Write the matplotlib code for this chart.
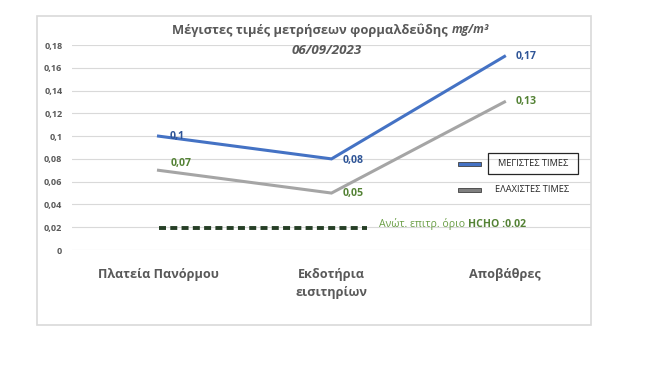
import matplotlib
matplotlib.use("Agg")
import matplotlib.pyplot as plt
import matplotlib.patches as mpatches

plt.rcParams['font.family'] = ['Open Sans', 'DejaVu Sans']

locations = ['Πλατεία Πανόρμου', 'Εκδοτήρια\nεισιτηρίων', 'Αποβάθρες']
max_values = [0.10, 0.08, 0.17]
min_values = [0.07, 0.05, 0.13]
max_labels = ['0,1', '0,08', '0,17']
min_labels = ['0,07', '0,05', '0,13']
limit_value = 0.019
limit_span = [0, 1.205]
y_ticks = [0, 0.02, 0.04, 0.06, 0.08, 0.1, 0.12, 0.14, 0.16, 0.18]
y_tick_labels = ['0', '0,02', '0,04', '0,06', '0,08', '0,1', '0,12', '0,14', '0,16', '0,18']

blue = '#4472C4'
gray = '#A5A5A5'
blue_txt = '#2F5597'
green_txt = '#548235'
text_gray = '#595959'

fig = plt.figure(figsize=(6.5, 3.83), dpi=100)
# outer chart frame
fig.patches.append(mpatches.Rectangle((37 / 650, 1 - 325 / 383), (591 - 37) / 650, (325 - 16) / 383,
                                      transform=fig.transFigure, fill=False, edgecolor='#D9D9D9', lw=1.2))

ax = fig.add_axes([72 / 650, 1 - 250 / 383, (591 - 72) / 650, (250 - 45) / 383])
x = list(range(len(locations)))

ax.plot(x, max_values, color=blue, lw=2.2, solid_joinstyle='miter', zorder=3)
ax.plot(x, min_values, color=gray, lw=2.2, solid_joinstyle='miter', zorder=3)
ax.plot(limit_span, [limit_value, limit_value], color='#263F26', lw=2.8, linestyle=(0, (1.8, 1.1)), zorder=3)
lim_txt = ax.annotate('Ανώτ. επιτρ. όριο ', xy=(limit_span[1], limit_value), xytext=(9, 3),
                      textcoords='offset points', color='#6A9E45', fontsize=7.6, va='center', ha='left')
ax.annotate('HCHO :0.02', xy=(1, 0.5), xycoords=lim_txt, xytext=(0, 0), textcoords='offset points',
            color=green_txt, fontsize=7.6, fontweight='bold', va='center', ha='left')

max_offsets = [(8, 0), (8, -1.5), (8, 0)]
min_offsets = [(8.5, 5), (8, 0), (8, 0)]
for i in x:
    ax.annotate(max_labels[i], xy=(i, max_values[i]), xytext=max_offsets[i], textcoords='offset points',
                color=blue_txt, fontsize=7.6, fontweight='bold', va='center', ha='left')
    ax.annotate(min_labels[i], xy=(i, min_values[i]), xytext=min_offsets[i], textcoords='offset points',
                color=green_txt, fontsize=7.6, fontweight='bold', va='center', ha='left')

ax.set_xlim(-0.5, 2.5)
ax.set_ylim(0, 0.18)
ax.set_yticks(y_ticks)
ax.set_yticklabels(y_tick_labels, fontsize=6.5, color=text_gray, fontweight='bold')
ax.set_xticks(x)
ax.set_xticklabels(locations, fontsize=9.1, color=text_gray, fontweight='bold', va='top', linespacing=1.5)
ax.tick_params(axis='y', length=0, pad=7)
ax.tick_params(axis='x', length=0, pad=13)
ax.grid(axis='y', color='#D9D9D9', lw=0.8)
ax.set_axisbelow(True)
for s in ax.spines.values():
    s.set_visible(False)

# title
fig.text(448 / 650, 1 - 30 / 383, 'Μέγιστες τιμές μετρήσεων φορμαλδεΰδης', fontsize=9.3, fontweight='bold',
         color=text_gray, ha='right', va='center')
fig.text(452 / 650, 1 - 30 / 383, 'mg/m³', fontsize=8.6, fontweight='bold', style='italic',
         color=text_gray, ha='left', va='center')
fig.text(327 / 650, 1 - 51 / 383, '06/09/2023', fontsize=9.6, fontweight='bold', style='italic',
         color=text_gray, ha='center', va='center')

# legend
legend_items = [('ΜΕΓΙΣΤΕΣ ΤΙΜΕΣ', blue), ('ΕΛΑΧΙΣΤΕΣ ΤΙΜΕΣ', '#7F7F7F')]
legend_y = [164, 190]
legend_x = [498, 495]
for (name, col), yy, xx in zip(legend_items, legend_y, legend_x):
    fig.patches.append(mpatches.Rectangle((458 / 650, 1 - (yy + 2) / 383), 23 / 650, 4 / 383,
                                          transform=fig.transFigure, facecolor=col, edgecolor='#404040', lw=0.6))
    fig.text(xx / 650, 1 - yy / 383, name, fontsize=6.7, color='#262626', ha='left', va='center')
fig.patches.append(mpatches.Rectangle((488 / 650, 1 - 174 / 383), 90 / 650, 21 / 383,
                                      transform=fig.transFigure, fill=False, edgecolor='#262626', lw=0.9))

fig.savefig('out.png', dpi=100, facecolor='white')
